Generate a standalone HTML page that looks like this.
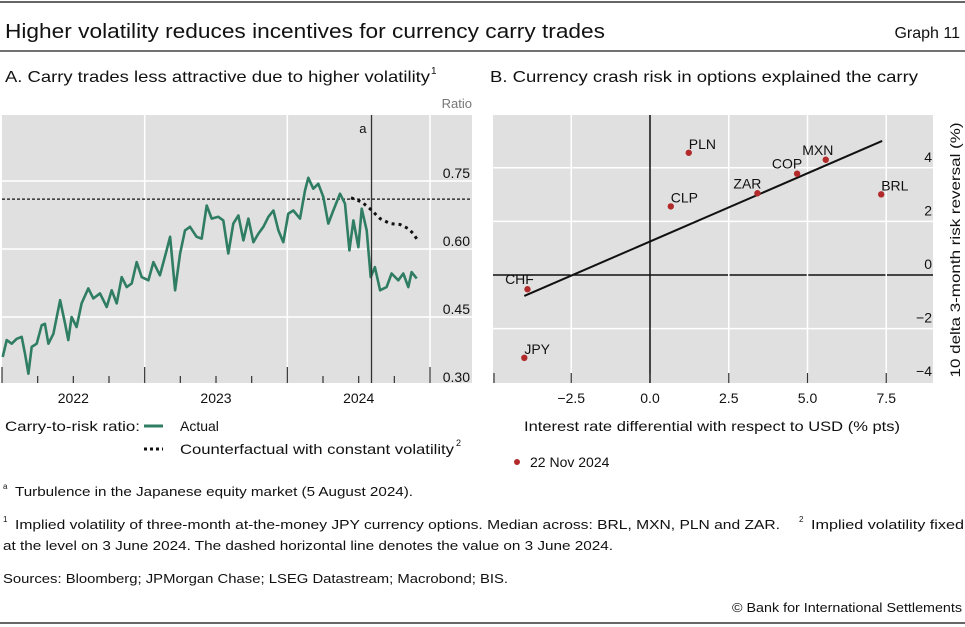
<!DOCTYPE html>
<html><head><meta charset="utf-8"><style>
html,body{margin:0;padding:0;background:#fff;}
svg{display:block;font-family:"Liberation Sans",sans-serif;}
</style></head><body>
<svg id="root" width="965" height="627" viewBox="0 0 965 627">
<line x1="0" y1="2" x2="965" y2="2" stroke="#333" stroke-width="1.5"/>
<text x="5" y="38" font-size="20" fill="#111" textLength="600" lengthAdjust="spacingAndGlyphs">Higher volatility reduces incentives for currency carry trades</text>
<text x="960" y="38" font-size="16" fill="#111" text-anchor="end">Graph 11</text>
<line x1="0" y1="51" x2="965" y2="51" stroke="#444" stroke-width="1.5"/>
<text x="5" y="82" font-size="16" fill="#111" textLength="425" lengthAdjust="spacingAndGlyphs">A. Carry trades less attractive due to higher volatility</text>
<text x="431" y="74" font-size="10" fill="#111">1</text>
<text x="490" y="82" font-size="16" fill="#111" textLength="428" lengthAdjust="spacingAndGlyphs">B. Currency crash risk in options explained the carry</text>
<text x="472" y="108" font-size="13" fill="#777" text-anchor="end">Ratio</text>
<g id="chartA"></g>
<g id="chartB"></g>
<!-- legend A -->
<text x="5" y="431" font-size="14" fill="#111" textLength="135" lengthAdjust="spacingAndGlyphs">Carry-to-risk ratio:</text>
<line x1="144" y1="426" x2="163" y2="426" stroke="#2f7d63" stroke-width="3"/>
<text x="180" y="431" font-size="14" fill="#111">Actual</text>
<line x1="144" y1="449" x2="163" y2="449" stroke="#111" stroke-width="3" stroke-dasharray="3,3"/>
<text x="180" y="454" font-size="14" fill="#111" textLength="274" lengthAdjust="spacingAndGlyphs">Counterfactual with constant volatility</text>
<text x="456" y="446" font-size="9" fill="#111">2</text>
<!-- legend B -->
<text x="712" y="431" font-size="14" fill="#111" text-anchor="middle" textLength="376" lengthAdjust="spacingAndGlyphs">Interest rate differential with respect to USD (% pts)</text>
<circle cx="517" cy="462" r="3" fill="#b22a2a"/>
<text x="530" y="467" font-size="14" fill="#111">22 Nov 2024</text>
<text transform="translate(960,250) rotate(-90)" font-size="14" fill="#111" text-anchor="middle" textLength="255" lengthAdjust="spacingAndGlyphs">10 delta 3-month risk reversal (%)</text>
<!-- footnotes -->
<text x="3" y="489" font-size="8" fill="#111">a</text>
<text x="15" y="496" font-size="13" fill="#111" textLength="398" lengthAdjust="spacingAndGlyphs">Turbulence in the Japanese equity market (5 August 2024).</text>
<text x="3" y="522" font-size="8" fill="#111">1</text>
<text x="15" y="529" font-size="13" fill="#111" textLength="765" lengthAdjust="spacingAndGlyphs">Implied volatility of three-month at-the-money JPY currency options. Median across: BRL, MXN, PLN and ZAR.</text>
<text x="799" y="522" font-size="8" fill="#111">2</text>
<text x="811" y="529" font-size="13" fill="#111" textLength="153" lengthAdjust="spacingAndGlyphs">Implied volatility fixed</text>
<text x="3" y="550" font-size="13" fill="#111" textLength="610" lengthAdjust="spacingAndGlyphs">at the level on 3 June 2024. The dashed horizontal line denotes the value on 3 June 2024.</text>
<text x="3" y="583" font-size="13" fill="#111" textLength="505" lengthAdjust="spacingAndGlyphs">Sources: Bloomberg; JPMorgan Chase; LSEG Datastream; Macrobond; BIS.</text>
<text x="962" y="612" font-size="13" fill="#111" text-anchor="end" textLength="230" lengthAdjust="spacingAndGlyphs">© Bank for International Settlements</text>
<line x1="0" y1="623" x2="965" y2="623" stroke="#333" stroke-width="1.5"/>
</svg>
<script>
// ---- Panel A data ----
const actualDates = [2022.005,2022.033,2022.068,2022.103,2022.138,2022.161,2022.185,2022.208,2022.243,2022.278,2022.301,2022.325,2022.360,2022.407,2022.442,2022.465,2022.488,2022.523,2022.558,2022.605,2022.640,2022.687,2022.734,2022.769,2022.804,2022.839,2022.874,2022.909,2022.944,2022.979,2023.026,2023.061,2023.107,2023.154,2023.178,2023.213,2023.248,2023.283,2023.318,2023.364,2023.400,2023.435,2023.470,2023.516,2023.551,2023.586,2023.621,2023.657,2023.692,2023.727,2023.762,2023.797,2023.832,2023.867,2023.902,2023.937,2023.972,2024.007,2024.042,2024.089,2024.124,2024.147,2024.182,2024.217,2024.252,2024.287,2024.322,2024.369,2024.404,2024.435,2024.463,2024.498,2024.521,2024.556,2024.584,2024.614,2024.650,2024.696,2024.731,2024.778,2024.813,2024.848,2024.871,2024.907];
const actualValues = [0.362,0.399,0.391,0.402,0.406,0.369,0.325,0.384,0.391,0.432,0.435,0.391,0.413,0.487,0.435,0.399,0.450,0.428,0.480,0.513,0.491,0.502,0.472,0.509,0.480,0.538,0.516,0.524,0.571,0.538,0.531,0.571,0.542,0.597,0.627,0.509,0.590,0.641,0.649,0.627,0.623,0.696,0.667,0.671,0.663,0.590,0.656,0.674,0.619,0.667,0.615,0.634,0.649,0.671,0.685,0.641,0.615,0.678,0.685,0.667,0.729,0.757,0.733,0.744,0.715,0.656,0.685,0.722,0.700,0.597,0.663,0.604,0.689,0.641,0.538,0.560,0.509,0.516,0.546,0.531,0.546,0.516,0.549,0.535];
const cfDates = [2024.446,2024.521,2024.579,2024.650,2024.720,2024.790,2024.848,2024.883,2024.914];
const cfValues = [0.713,0.704,0.689,0.667,0.656,0.654,0.645,0.634,0.619];
const refLevel = 0.71;
const eventDate = 2024.59;
const yTicksA = [0.30,0.45,0.60,0.75];
const yTickLabelsA = ["0.30","0.45","0.60","0.75"];
const yearsA = [2022,2023,2024];
// ---- Panel B data ----
const currencies = ["PLN","CLP","ZAR","COP","MXN","BRL","CHF","JPY"];
const rateDiff = [1.23,0.66,3.41,4.67,5.58,7.34,-3.89,-3.99];
const riskRev = [4.56,2.56,3.05,3.78,4.30,3.01,-0.53,-3.09];
const fitSlope = 0.509, fitIntercept = 1.25;
const fitRange = [-3.99,7.37];
const xTicksB = [-2.5,0,2.5,5,7.5];
const xTickLabelsB = ["\u22122.5","0.0","2.5","5.0","7.5"];
const yTicksB = [-4,-2,0,2,4];
const yTickLabelsB = ["\u22124","\u22122","0","2","4"];

const NS="http://www.w3.org/2000/svg";
function mk(tag,attrs,parent){const e=document.createElementNS(NS,tag);for(const k in attrs)e.setAttribute(k,attrs[k]);parent.appendChild(e);return e;}

// Panel A
const A=document.getElementById('chartA');
const aL=2,aR=472,aT=115,aB=383;
const xA=t=>aL+(t-2022)*142.67;
const yA=v=>181+(0.75-v)/0.15*68;
let r=mk('rect',{x:aL,y:aT,width:aR-aL,height:aB-aT,fill:'#e0e0e0'},A);


yTicksA.forEach((v,i)=>{
  if(v>0.31){const g=mk('line',{x1:aL,x2:aR,y1:yA(v),y2:yA(v),stroke:'#fff','stroke-width':1.5},A);
  
  }
  const t=mk('text',{x:470,y:yA(v)-3,'font-size':14,fill:'#111','text-anchor':'end'},A);
  t.textContent=yTickLabelsA[i];
  
  
});
[2023,2024,2025].forEach(yr=>{
  const g=mk('line',{x1:xA(yr),x2:xA(yr),y1:aT,y2:aB,stroke:'#fff','stroke-width':1.5},A);
  
  
});
for(let yr=2022;yr<2025;yr++){for(let q=0;q<4;q++){
  const x=xA(yr+q/4);const tk=mk('line',{x1:x,x2:x,y1:q==0?367:376,y2:aB,stroke:'#333','stroke-width':1.2},A);
  
  
}}
const tk25=mk('line',{x1:xA(2025),x2:xA(2025),y1:367,y2:aB,stroke:'#333','stroke-width':1.2},A);


yearsA.forEach(yr=>{
  const t=mk('text',{x:xA(yr+0.5),y:403,'font-size':14,fill:'#111','text-anchor':'middle'},A);
  t.textContent=String(yr);
  
  
});
const ref=mk('line',{x1:aL,x2:aR,y1:yA(refLevel),y2:yA(refLevel),stroke:'#111','stroke-width':1.3,'stroke-dasharray':'3,2'},A);


const act=mk('polyline',{points:actualDates.map((d,i)=>xA(d).toFixed(1)+','+yA(actualValues[i]).toFixed(1)).join(' '),fill:'none',stroke:'#2f7d63','stroke-width':2.6,'stroke-linejoin':'round'},A);


const ev=mk('line',{x1:xA(eventDate),x2:xA(eventDate),y1:aT,y2:aB,stroke:'#333','stroke-width':1.3},A);


const evl=mk('text',{x:xA(eventDate)-5,y:133,'font-size':13,fill:'#111','text-anchor':'end'},A);
evl.textContent='a';


const cf=mk('polyline',{points:cfDates.map((d,i)=>xA(d).toFixed(1)+','+yA(cfValues[i]).toFixed(1)).join(' '),fill:'none',stroke:'#111','stroke-width':3,'stroke-dasharray':'3,4'},A);



// Panel B
const B=document.getElementById('chartB');
const bL=493,bR=933,bT=115,bB=383;
const xB=v=>650+v*31.5;
const yB=v=>275-v*26.8;
const rb=mk('rect',{x:bL,y:bT,width:bR-bL,height:bB-bT,fill:'#e0e0e0'},B);


yTicksB.forEach((v,i)=>{
  if(v>-4){const g=mk('line',{x1:bL,x2:bR,y1:yB(v),y2:yB(v),stroke:v==0?'#111':'#fff','stroke-width':v==0?1.5:1.5},B);
  
  }
  const t=mk('text',{x:932,y:yB(v)-6,'font-size':14,fill:'#111','text-anchor':'end'},B);
  t.textContent=yTickLabelsB[i];
  
  
});
xTicksB.forEach((v,i)=>{
  const g=mk('line',{x1:xB(v),x2:xB(v),y1:bT,y2:bB,stroke:v==0?'#111':'#fff','stroke-width':1.5},B);
  
  
  const tk=mk('line',{x1:xB(v),x2:xB(v),y1:373,y2:bB,stroke:'#333','stroke-width':1.2},B);
  
  
  const t=mk('text',{x:xB(v),y:403,'font-size':14,fill:'#111','text-anchor':'middle'},B);
  t.textContent=xTickLabelsB[i];
  
  
});
const tkl=mk('line',{x1:bL+1,x2:bL+1,y1:373,y2:bB,stroke:'#333','stroke-width':1.2},B);


const fit=mk('line',{x1:xB(fitRange[0]),y1:yB(fitSlope*fitRange[0]+fitIntercept),x2:xB(fitRange[1]),y2:yB(fitSlope*fitRange[1]+fitIntercept),stroke:'#111','stroke-width':2},B);


currencies.forEach((c,i)=>{
  const d=mk('circle',{cx:xB(rateDiff[i]),cy:yB(riskRev[i]),r:3.2,fill:'#b22a2a'},B);
  
  
  let dx=0,dy=-4,anchor='start';
  if(c==='ZAR'||c==='COP'||c==='MXN'){anchor='middle';dx=-10;dy=-5;}
  if(c==='MXN'){dx=-8;}
  if(c==='CHF'){anchor='middle';dx=-8;dy=-5;}
  const t=mk('text',{x:xB(rateDiff[i])+dx,y:yB(riskRev[i])+dy,'font-size':14,fill:'#111','text-anchor':anchor},B);
  t.textContent=c;
  
  
});
</script>
</body></html>
